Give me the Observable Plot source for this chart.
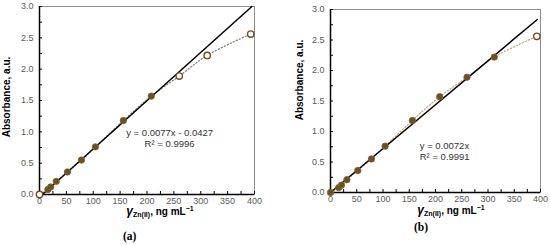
<!DOCTYPE html>
<html><head><meta charset="utf-8">
<script src="https://cdn.jsdelivr.net/npm/d3@7"></script>
<script src="https://cdn.jsdelivr.net/npm/@observablehq/plot@0.6"></script>
<style>
body{margin:0;background:#fff;}
#wrap{position:relative;width:550px;height:245px;overflow:hidden;font-family:"Liberation Sans",Arial,sans-serif;}
.panel{position:absolute;top:0;}
.cap{position:absolute;font-family:"Liberation Serif","Times New Roman",serif;font-weight:bold;font-size:11.5px;color:#000;line-height:13px;}
</style></head><body><div id="wrap"></div>
<script>
// Data
const conc   = [0, 15.6, 20.8, 31.2, 52, 78, 104, 156, 208, 260, 312, 393];
const absorb = [0, 0.08, 0.12, 0.21, 0.36, 0.55, 0.76, 1.18, 1.57, 1.89, 2.22, 2.56];
const openA  = [true, false, false, false, false, false, false, false, false, true, true, true];
const openB  = [false, false, false, false, false, false, false, false, false, false, false, true];
const xTickLabels = [0, 50, 100, 150, 200, 250, 300, 350, 400];
const xMinorTicks = [0, 25, 50, 75, 100, 125, 150, 175, 200, 225, 250, 275, 300, 325, 350, 375, 400];
const yTickLabels = [0, 0.5, 1.0, 1.5, 2.0, 2.5, 3.0];
const yMinorTicks = [0, 0.25, 0.5, 0.75, 1.0, 1.25, 1.5, 1.75, 2.0, 2.25, 2.5, 2.75, 3.0];
const fitA = {slope: 0.0077, intercept: -0.0427, eq: "y = 0.0077x - 0.0427", r2: "R² = 0.9996"};
const fitB = {slope: 0.0072, intercept: 0, eq: "y = 0.0072x", r2: "R² = 0.9991"};

const FONT = '"Liberation Sans", Arial, sans-serif';
const wrap = document.getElementById("wrap");

function panel(opts) {
  const pts = conc.map((c, i) => ({x: c, y: absorb[i], open: opts.open[i]}));
  const f = opts.fit;
  const x0 = Math.max(0, -f.intercept / f.slope);
  const x1 = Math.min(opts.lineEnd, (3 - f.intercept) / f.slope);
  const fitLine = [x0, x1].map(x => ({x, y: f.slope * x + f.intercept}));
  const plot = Plot.plot({
    width: 275, height: opts.height,
    marginLeft: opts.ml, marginRight: opts.mr, marginTop: opts.mt, marginBottom: opts.mb,
    style: {fontFamily: FONT, background: "transparent"},
    x: {domain: [0, 400]},
    y: {domain: [0, 3]},
    marks: [
      Plot.frame({stroke: "#8c8c8c", strokeWidth: 1}),
      Plot.axisX(xMinorTicks, {tickSize: -3, tickFormat: () => "", stroke: "#000", label: null}),
      Plot.axisY(yMinorTicks, {tickSize: -3, tickFormat: () => "", stroke: "#000", label: null}),
      Plot.axisX(xTickLabels, {tickSize: 0, tickPadding: 3, fontSize: 9, fill: "#595959", label: null}),
      Plot.axisY(yTickLabels, {tickSize: 0, tickPadding: 6, fontSize: 9, fill: "#595959", tickFormat: d3.format(".1f"), label: null}),
      Plot.line(pts, {x: "x", y: "y", curve: "catmull-rom", stroke: opts.dotColor, strokeWidth: 1.2, strokeDasharray: "1.3,2"}),
      Plot.line(fitLine, {x: "x", y: "y", stroke: "#000", strokeWidth: 1.5}),
      Plot.ruleX([0], {stroke: "#000", strokeWidth: 1.5}),
      Plot.ruleY([0], {stroke: "#000", strokeWidth: 1.5}),
      Plot.dot(pts, {x: "x", y: "y", r: 3.2,
        fill: d => d.open ? "#fff" : "#66551f",
        stroke: d => d.open ? "#7a4a22" : "#8a5a2e", strokeWidth: d => d.open ? 1.4 : 0.8}),
      Plot.text([f.eq + "\n" + f.r2], {x: opts.eqX, y: opts.eqY, textAnchor: opts.eqAnchor, lineHeight: 1.15, fontSize: 9.5, fill: "#333", lineAnchor: "top"})
    ]
  });
  const svg = d3.select(plot);
  // y axis title
  svg.append("text")
    .attr("transform", `translate(${opts.ylx},${opts.yly}) rotate(-90)`)
    .attr("text-anchor", "middle").attr("dominant-baseline", "middle")
    .style("font-family", FONT).style("font-weight", "bold").style("font-size", "10px")
    .text("Absorbance, a.u.");
  // x axis title with subscript / superscript
  const t = svg.append("text")
    .attr("x", opts.xlx).attr("y", opts.xly).attr("text-anchor", "middle")
    .style("font-family", FONT).style("font-weight", "bold").style("font-size", "10px");
  t.append("tspan").text("γ").style("font-style", "italic").style("font-size", "12px");
  t.append("tspan").text("Zn(II)").attr("dy", 2).style("font-size", "7px");
  t.append("tspan").text(", ng mL").attr("dy", -2);
  t.append("tspan").text("−1").attr("dy", -4).style("font-size", "7px");
  plot.classList.add("panel");
  plot.style.left = opts.left + "px";
  wrap.appendChild(plot);
  const cap = document.createElement("div");
  cap.className = "cap";
  cap.textContent = opts.caption;
  cap.style.left = opts.capX + "px";
  cap.style.top = opts.capY + "px";
  wrap.appendChild(cap);
}

panel({left: 0, height: 225, ml: 39, mr: 21, mt: 6, mb: 31, open: openA, fit: fitA, lineEnd: 400,
  dotColor: "#8a7a6a", eqX: 242, eqY: 1.06, eqAnchor: "middle",
  ylx: 7, yly: 97, xlx: 160, xly: 215, caption: "(a)", capX: 123, capY: 230});
panel({left: 275, height: 225, ml: 55, mr: 10, mt: 9, mb: 33, open: openB, fit: fitB, lineEnd: 394,
  dotColor: "#c4a07a", eqX: 170, eqY: 0.84, eqAnchor: "start",
  ylx: 25, yly: 80, xlx: 176, xly: 214, caption: "(b)", capX: 414, capY: 221});
</script></body></html>
